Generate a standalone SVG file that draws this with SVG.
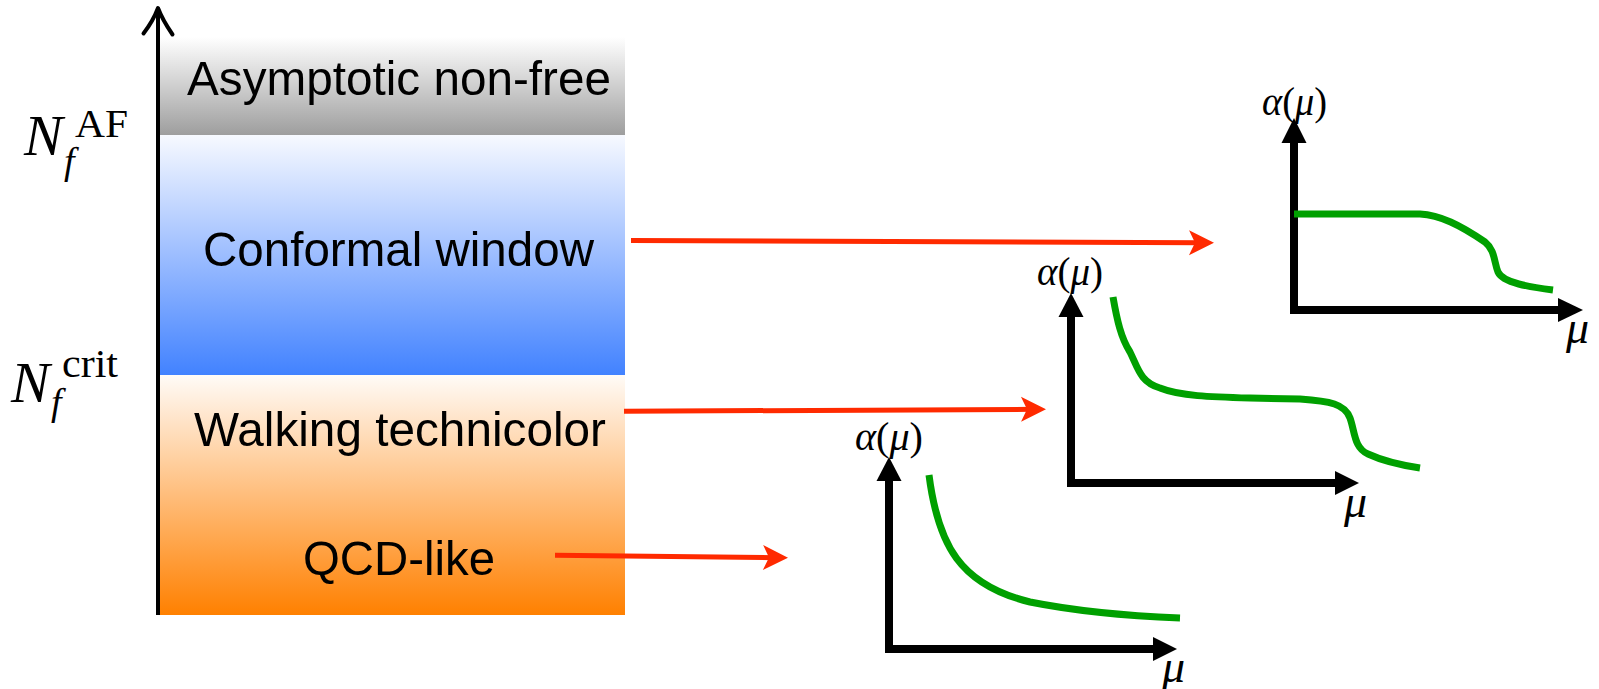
<svg xmlns="http://www.w3.org/2000/svg" width="1599" height="689" viewBox="0 0 1599 689">
  <defs>
    <linearGradient id="gGray" x1="0" y1="0" x2="0" y2="1">
      <stop offset="0" stop-color="#ffffff"/>
      <stop offset="1" stop-color="#9e9e9e"/>
    </linearGradient>
    <linearGradient id="gBlue" x1="0" y1="0" x2="0" y2="1">
      <stop offset="0" stop-color="#f7f9ff"/>
      <stop offset="1" stop-color="#4282ff"/>
    </linearGradient>
    <linearGradient id="gOrange" x1="0" y1="0" x2="0" y2="1">
      <stop offset="0" stop-color="#fffbf7"/>
      <stop offset="1" stop-color="#ff8000"/>
    </linearGradient>
    <marker id="redHead" markerUnits="userSpaceOnUse" viewBox="0 -13 26 26" refX="13" refY="0" markerWidth="26" markerHeight="26" orient="auto" overflow="visible">
      <path d="M0,-12.5 L25,0 L0,12.5 L6,0 Z" fill="#ff2a00"/>
    </marker>
  </defs>
  <style>
    .band-text { font-family: "Liberation Sans", Arial, sans-serif; font-size: 49px; fill: #000; }
    .math { font-family: "Liberation Serif", "Times New Roman", serif; fill: #000; }
    .it { font-style: italic; }
    .conn { stroke: #ff2a00; stroke-width: 5; fill: none; marker-end: url(#redHead); }
    .ax { stroke: #000; stroke-width: 8; fill: none; stroke-linejoin: miter; }
    .axhead { fill: #000; }
    .curve { stroke: #00a000; stroke-width: 7; fill: none; }
  </style>

  <!-- bands -->
  <g id="band-asymptotic">
    <rect x="160" y="37" width="465" height="98" fill="url(#gGray)"/>
    <text class="band-text" x="187" y="95" textLength="424" lengthAdjust="spacingAndGlyphs">Asymptotic non-free</text>
  </g>
  <g id="band-conformal">
    <rect x="160" y="135" width="465" height="240" fill="url(#gBlue)"/>
    <text class="band-text" x="203" y="266" textLength="391" lengthAdjust="spacingAndGlyphs">Conformal window</text>
  </g>
  <g id="band-below">
    <rect x="160" y="375" width="465" height="240" fill="url(#gOrange)"/>
  </g>
  <g id="label-walking">
    <text class="band-text" x="194" y="446" textLength="412" lengthAdjust="spacingAndGlyphs">Walking technicolor</text>
  </g>
  <g id="label-qcd">
    <text class="band-text" x="303" y="575" textLength="192" lengthAdjust="spacingAndGlyphs">QCD-like</text>
  </g>

  <!-- Nf axis -->
  <g id="axis-nf">
    <line x1="158" y1="615" x2="158" y2="10" stroke="#000" stroke-width="4"/>
    <path d="M143.5,33.5 C150,25 155,16 158,8 C161,16 166,25 172.5,34.5" stroke="#000" stroke-width="4" fill="none" stroke-linecap="round" stroke-linejoin="round"/>
  </g>
  <g id="label-nf-af">
    <text class="math it" x="24" y="155" font-size="58">N</text>
    <text class="math it" x="64" y="174" font-size="38">f</text>
    <text class="math" x="75" y="137" font-size="40" textLength="53" lengthAdjust="spacingAndGlyphs">AF</text>
  </g>
  <g id="label-nf-crit">
    <text class="math it" x="11" y="402" font-size="58">N</text>
    <text class="math it" x="51" y="415" font-size="38">f</text>
    <text class="math" x="62" y="377" font-size="40" textLength="56" lengthAdjust="spacingAndGlyphs">crit</text>
  </g>

  <!-- plots -->
  <g id="plot-conformal">
    <path class="ax" d="M1294,142 V310 H1558"/>
    <polygon class="axhead" points="1281.5,143 1306.5,143 1294,118"/>
    <polygon class="axhead" points="1558,298 1558,322 1583,310"/>
    <path class="curve" d="M1294,214 H1420 C1440,215 1460,225 1485,242 C1495,250 1494,262 1498,272 C1503,283 1530,287 1553,290"/>
    <text class="math" x="1262" y="115" font-size="40" textLength="65" lengthAdjust="spacingAndGlyphs"><tspan class="it">α</tspan>(<tspan class="it">μ</tspan>)</text>
    <text class="math it" x="1566" y="343" font-size="46">μ</text>
  </g>
  <g id="plot-walking">
    <path class="ax" d="M1071,316 V483 H1335"/>
    <polygon class="axhead" points="1058.5,317 1083.5,317 1071,293"/>
    <polygon class="axhead" points="1335,471 1335,495 1359,483"/>
    <path class="curve" d="M1113,297 C1117,320 1121,338 1130,352 C1138,368 1140,382 1160,388 C1180,396 1210,397 1250,398 L1300,399 C1330,401 1345,404 1350,418 C1355,432 1354,448 1368,454 C1383,461 1400,465 1420,468"/>
    <text class="math" x="1037" y="285" font-size="40" textLength="66" lengthAdjust="spacingAndGlyphs"><tspan class="it">α</tspan>(<tspan class="it">μ</tspan>)</text>
    <text class="math it" x="1344" y="517" font-size="46">μ</text>
  </g>
  <g id="plot-qcd">
    <path class="ax" d="M889,480 V649 H1153"/>
    <polygon class="axhead" points="876.5,481 901.5,481 889,457"/>
    <polygon class="axhead" points="1153,637 1153,661 1177,649"/>
    <path class="curve" d="M929,475 C938,545 960,585 1030,602 C1080,612 1130,616 1180,618"/>
    <text class="math" x="855" y="450" font-size="40" textLength="68" lengthAdjust="spacingAndGlyphs"><tspan class="it">α</tspan>(<tspan class="it">μ</tspan>)</text>
    <text class="math it" x="1162" y="682" font-size="46">μ</text>
  </g>

  <!-- connectors -->
  <g id="connectors">
    <path class="conn" d="M631,240.5 L1202,242.8"/>
    <path class="conn" d="M624,411.3 L1034,409.3"/>
    <path class="conn" d="M555,555.3 L776,557.7"/>
  </g>
</svg>
